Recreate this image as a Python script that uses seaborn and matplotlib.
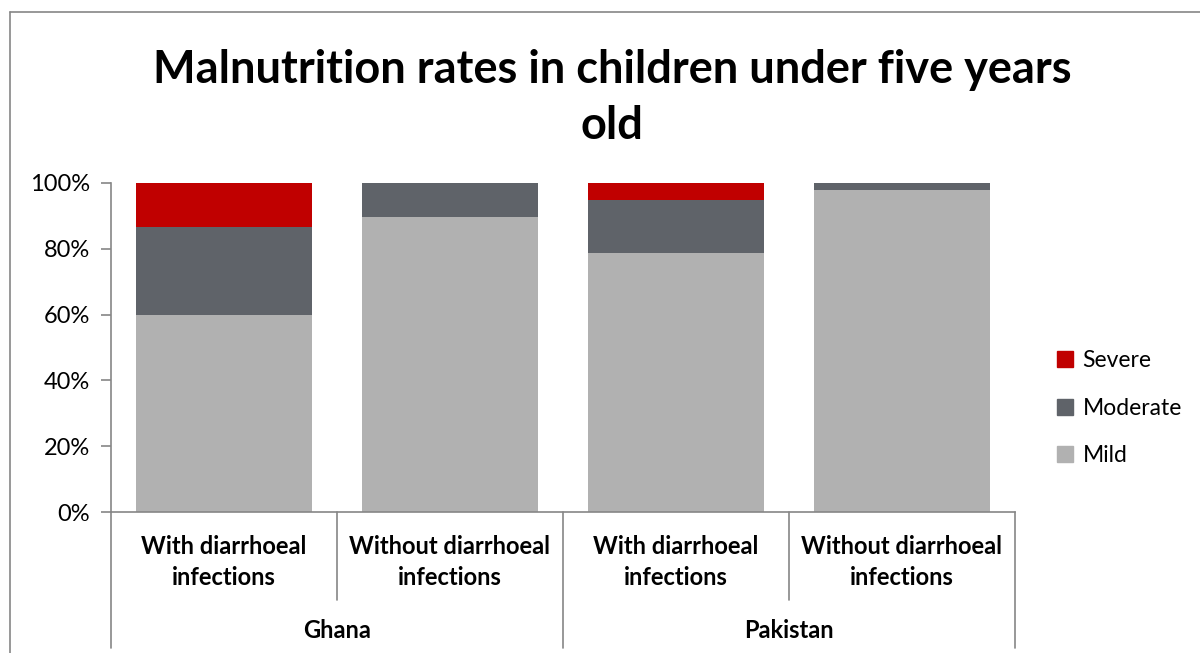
import matplotlib
matplotlib.use("Agg")
import matplotlib.pyplot as plt
import matplotlib.transforms as mtransforms
from matplotlib.lines import Line2D
from matplotlib.patches import Patch
import seaborn as sns
import pandas as pd
import numpy as np

# data (percent)
groups = ["Ghana", "Ghana", "Pakistan", "Pakistan"]
subcats = ["With diarrhoeal\ninfections", "Without diarrhoeal\ninfections",
           "With diarrhoeal\ninfections", "Without diarrhoeal\ninfections"]
mild = [60.0, 89.7, 78.7, 97.9]
moderate = [26.6, 10.3, 16.1, 2.1]
severe = [13.4, 0.0, 5.2, 0.0]

colors = {"Severe": "#C00000", "Moderate": "#5F6369", "Mild": "#B1B1B1"}

sns.set_style("white")
plt.rcParams["font.family"] = ["Lato", "DejaVu Sans"]
plt.rcParams["text.color"] = "black"
plt.rcParams["ytick.labelcolor"] = "black"

df = pd.DataFrame({
    "pos": [str(i) for i in range(len(subcats))],
    "mild": mild,
    "moderate": moderate,
    "severe": severe,
})
df["mild_mod"] = df["mild"] + df["moderate"]
df["total"] = df["mild_mod"] + df["severe"]

fig = plt.figure(figsize=(12, 6.53), dpi=100)
ax = fig.add_axes([0.0925, 0.2159, 0.7533, 0.5039])

# stacked bars drawn as overlaid cumulative totals
sns.barplot(data=df, x="pos", y="total", color=colors["Severe"], width=0.775,
            saturation=1, ax=ax, linewidth=0)
sns.barplot(data=df, x="pos", y="mild_mod", color=colors["Moderate"], width=0.775,
            saturation=1, ax=ax, linewidth=0)
sns.barplot(data=df, x="pos", y="mild", color=colors["Mild"], width=0.775,
            saturation=1, ax=ax, linewidth=0)

ax.set_xlim(-0.5, len(subcats) - 0.5)
ax.set_ylim(0, 100)
ax.set_yticks([0, 20, 40, 60, 80, 100])
ax.set_yticklabels([f"{v}%" for v in [0, 20, 40, 60, 80, 100]], fontsize=17,
                   color="black")
ax.set_xticks([])
ax.set_xlabel("")
ax.set_ylabel("")
ax.tick_params(axis="y", which="both", left=True, length=7, color="#868686",
               width=1.2, pad=8, direction="out")
for s in ["top", "right"]:
    ax.spines[s].set_visible(False)
for s in ["left", "bottom"]:
    ax.spines[s].set_color("#868686")
    ax.spines[s].set_linewidth(1.2)

# category axis with two levels
trans = mtransforms.blended_transform_factory(ax.transData, fig.transFigure)
y_axis = 0.2159
y_inner = (653 - 600) / 653
y_outer = (653 - 648) / 653
for i in range(len(subcats) + 1):
    xb = i - 0.5
    is_outer = (i == 0 or i == len(subcats) or groups[i - 1] != groups[i])
    ax.add_line(Line2D([xb, xb], [y_axis, y_outer if is_outer else y_inner],
                       transform=trans, color="#868686", lw=1.2, clip_on=False))
for i, lab in enumerate(subcats):
    ax.text(i, (653 - 562) / 653, lab, transform=trans, ha="center", va="center",
            fontsize=17, fontweight="bold", linespacing=1.38, color="black")
for g in dict.fromkeys(groups):
    idx = [i for i, gg in enumerate(groups) if gg == g]
    ax.text(np.mean(idx), (653 - 630) / 653, g, transform=trans, ha="center",
            va="center", fontsize=17, fontweight="bold", color="black")

fig.suptitle("Malnutrition rates in children under five years\nold", x=0.51,
             y=0.925, fontsize=32.5, fontweight="bold", linespacing=1.4,
             color="black")

handles = [Patch(color=colors[k]) for k in ["Severe", "Moderate", "Mild"]]
fig.legend(handles, ["Severe", "Moderate", "Mild"], loc="center left",
           bbox_to_anchor=(0.864, 0.375), frameon=False, fontsize=16.5,
           handlelength=0.7, handleheight=0.7, handletextpad=0.4,
           labelspacing=1.15)

# outer chart border
fig.add_artist(Line2D([10 / 1200, 10 / 1200], [0, 641 / 653],
                      transform=fig.transFigure, color="#868686", lw=1.2))
fig.add_artist(Line2D([10 / 1200, 1], [641 / 653, 641 / 653],
                      transform=fig.transFigure, color="#868686", lw=1.2))

fig.savefig("out.png", dpi=100)
